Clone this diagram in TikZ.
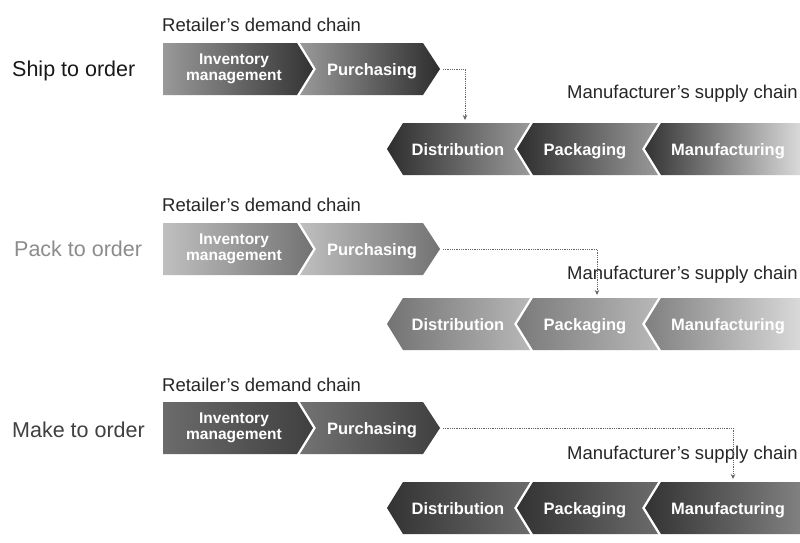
\documentclass[tikz,border=0pt]{standalone}
\usepackage{fontspec}
\setmainfont{Liberation Sans}
\usetikzlibrary{arrows.meta}
\tikzset{
  chevtext/.style={text=white,font=\fontsize{16.5}{16}\bfseries\selectfont,inner sep=0pt,align=center,text height=14pt,text depth=2pt},
  invtext/.style={text=white,font=\fontsize{15.5}{16}\bfseries\selectfont,inner sep=0pt,align=center},
  chainlabel/.style={font=\fontsize{18.5}{22}\selectfont,inner sep=0pt,text=black!85},
  rowlabel/.style={font=\fontsize{21.5}{24}\selectfont,inner sep=0pt,anchor=west},
  conn/.style={densely dotted,black!60,line width=0.8pt,-{Stealth[length=5pt,width=4.5pt]},shorten <=2pt}
}
% #1 centre y, #2 left colour, #3 right colour, #4 name
\newcommand\InvChev[4]{%
  \shade[left color=#2,right color=#3] (163,#1-26) -- (297,#1-26) -- (313,#1) -- (297,#1+26) -- (163,#1+26) -- cycle;
  \node[invtext] (#4) at (234,#1) {Inventory\\management};}
\newcommand\PurChev[4]{%
  \shade[left color=#2,right color=#3] (300,#1-26) -- (423,#1-26) -- (440,#1) -- (423,#1+26) -- (300,#1+26) -- (316,#1) -- cycle;
  \node[chevtext] (#4) at (372,#1) {Purchasing};
  \coordinate (#4tip) at (441,#1);}
\newcommand\DisChev[4]{%
  \shade[left color=#2,right color=#3] (387,#1) -- (403,#1-26) -- (530,#1-26) -- (514,#1) -- (530,#1+26) -- (403,#1+26) -- cycle;
  \node[chevtext] (#4) at (458,#1) {Distribution};}
\newcommand\PacChev[4]{%
  \shade[left color=#2,right color=#3] (517,#1) -- (533,#1-26) -- (658,#1-26) -- (642,#1) -- (658,#1+26) -- (533,#1+26) -- cycle;
  \node[chevtext] (#4) at (585,#1) {Packaging};}
\newcommand\ManChev[4]{%
  \shade[left color=#2,right color=#3] (645,#1) -- (661,#1-26) -- (800,#1-26) -- (800,#1+26) -- (661,#1+26) -- cycle;
  \node[chevtext] (#4) at (728,#1) {Manufacturing};}
\begin{document}
\begin{tikzpicture}[x=1pt,y=-1pt]
\useasboundingbox[fill=white] (0,0) rectangle (800,542);

% ---------- Row 1: Ship to order ----------
\node[rowlabel,text=black!90] (L1) at (12,71) {Ship to order};
\node[chainlabel,anchor=base west] (R1) at (162,31) {Retailer's demand chain};
\InvChev{69}{black!40}{black!80}{I1}
\PurChev{69}{black!40}{black!82}{P1}
\node[chainlabel,anchor=base east] (M1) at (798,98) {Manufacturer's supply chain};
\DisChev{149}{black!82}{black!40}{D1}
\PacChev{149}{black!82}{black!40}{K1}
\ManChev{149}{black!80}{black!15}{F1}
\coordinate (A1) at (465,120);
\draw[conn] (P1tip) -| (A1);

% ---------- Row 2: Pack to order ----------
\node[rowlabel,text=black!45] (L2) at (14,249) {Pack to order};
\node[chainlabel,anchor=base west] (R2) at (162,211) {Retailer's demand chain};
\InvChev{249}{black!25}{black!55}{I2}
\PurChev{249}{black!25}{black!55}{P2}
\node[chainlabel,anchor=base east] (M2) at (798,279) {Manufacturer's supply chain};
\DisChev{324}{black!55}{black!28}{D2}
\PacChev{324}{black!52}{black!28}{K2}
\ManChev{324}{black!50}{black!15}{F2}
\coordinate (A2) at (597,295);
\draw[conn] (P2tip) -| (A2);

% ---------- Row 3: Make to order ----------
\node[rowlabel,text=black!75] (L3) at (12,430) {Make to order};
\node[chainlabel,anchor=base west] (R3) at (162,391) {Retailer's demand chain};
\InvChev{428}{black!58}{black!75}{I3}
\PurChev{428}{black!55}{black!75}{P3}
\node[chainlabel,anchor=base east] (M3) at (798,459) {Manufacturer's supply chain};
\DisChev{508}{black!80}{black!58}{D3}
\PacChev{508}{black!80}{black!58}{K3}
\ManChev{508}{black!80}{black!50}{F3}
\coordinate (A3) at (733,479);
\draw[conn] (P3tip) -| (A3);
\end{tikzpicture}
\end{document}
